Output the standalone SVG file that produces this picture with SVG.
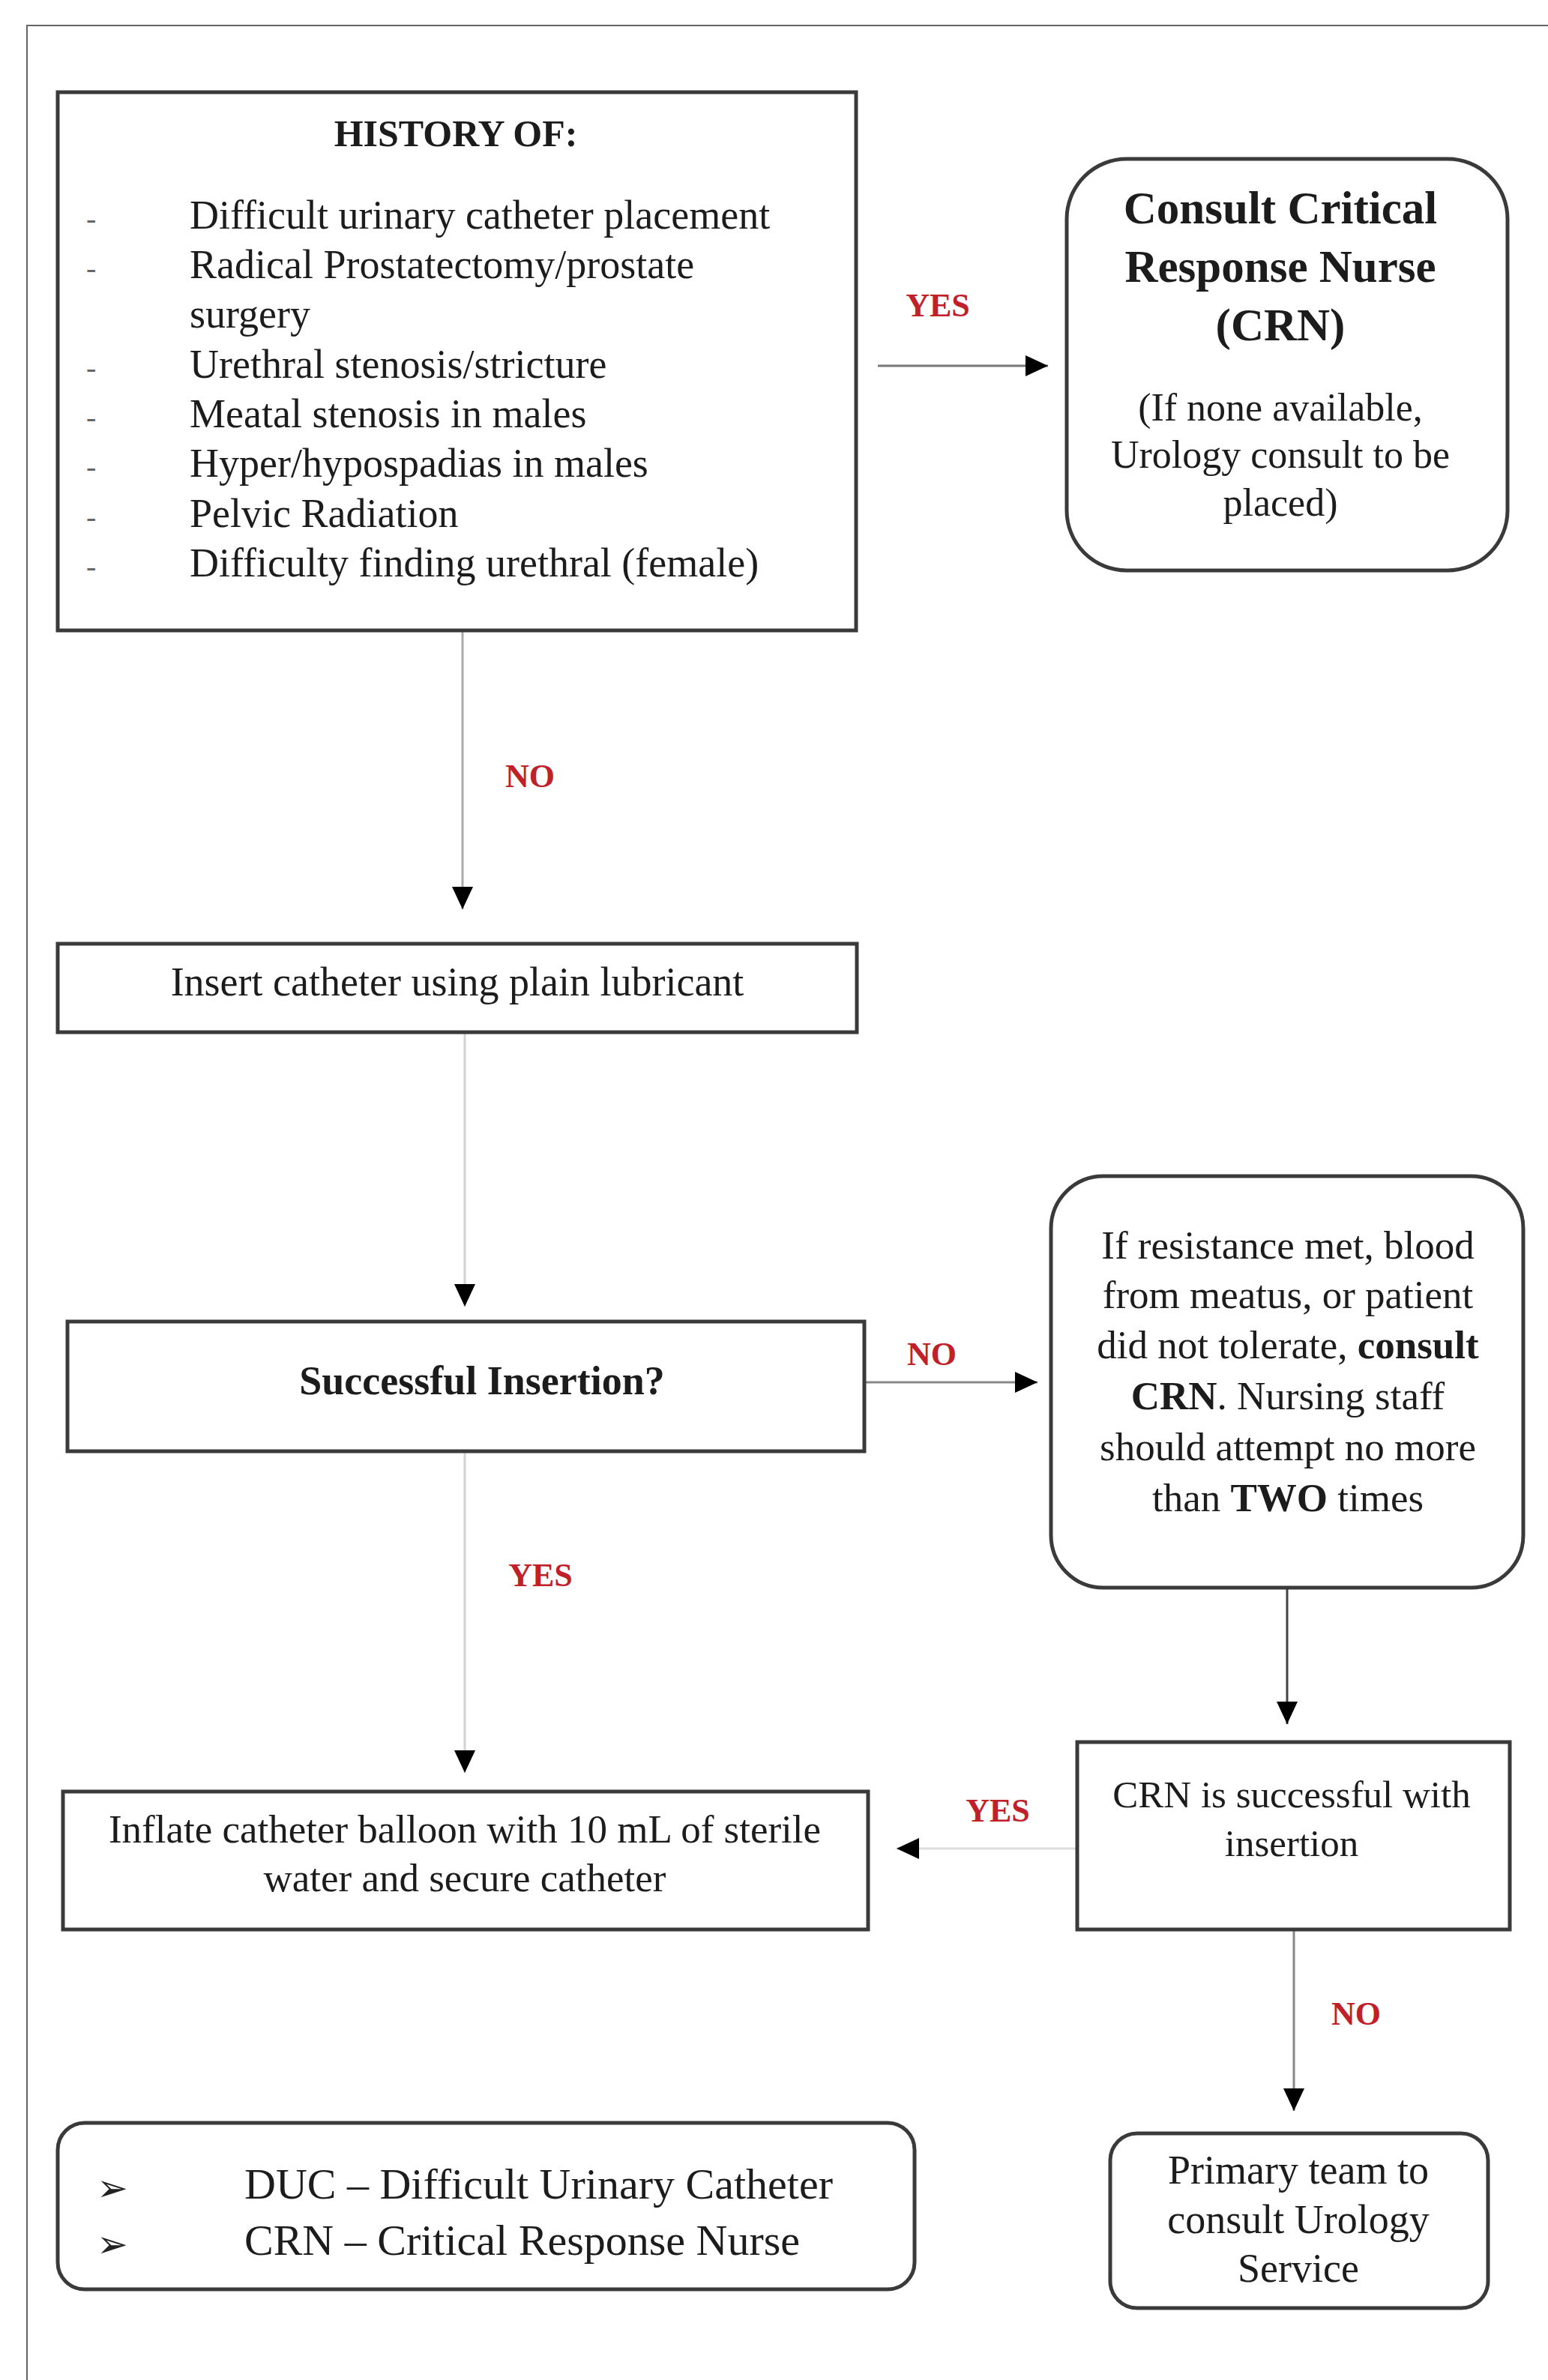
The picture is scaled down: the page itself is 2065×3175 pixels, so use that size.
<svg xmlns="http://www.w3.org/2000/svg" width="2065" height="3175" viewBox="0 0 2065 3175">
<defs>
<marker id="ah" viewBox="0 0 30 28" refX="30" refY="14" markerWidth="30" markerHeight="28" markerUnits="userSpaceOnUse" orient="auto">
<path d="M0,0 L30,14 L0,28 Z" fill="#000"/>
</marker>
<style>
.t{font-family:"Liberation Serif","Times New Roman",serif;font-size:53px;fill:#1c1c1c}
.c{text-anchor:middle}
.b{font-weight:bold}
.lbl{font-family:"Liberation Serif","Times New Roman",serif;font-size:44px;font-weight:bold;fill:#c0202a;text-anchor:middle}
.box{fill:#fff;stroke:#3a3a3a;stroke-width:5}
.con{fill:none;stroke-width:3}
.d{font-family:"Liberation Serif","Times New Roman",serif;font-size:40px;fill:#666}
.li{font-size:54px}
.h{font-size:50px}
.ti{font-size:61px}
.sub{font-size:52px}
.s54{font-size:54px}
.s51{font-size:51px}
.lg{font-size:58px}
.bul{font-family:"DejaVu Sans",sans-serif;font-size:50px;fill:#222;text-anchor:middle}
</style>
</defs>
<rect width="2065" height="3175" fill="#fff"/>
<rect x="36" y="34" width="2100" height="3200" fill="none" stroke="#666" stroke-width="2"/>

<g id="connectors">
<line class="con" x1="1171" y1="488" x2="1398" y2="488" stroke="#777" marker-end="url(#ah)"/>
<line class="con" x1="617" y1="842" x2="617" y2="1213" stroke="#aaa" marker-end="url(#ah)"/>
<line class="con" x1="620" y1="1377" x2="620" y2="1743" stroke="#d2d2d2" marker-end="url(#ah)"/>
<line class="con" x1="1153" y1="1844" x2="1384" y2="1844" stroke="#888" stroke-width="5" marker-end="url(#ah)"/>
<line class="con" x1="620" y1="1936" x2="620" y2="2365" stroke="#d2d2d2" marker-end="url(#ah)"/>
<line class="con" x1="1717" y1="2118" x2="1717" y2="2300" stroke="#444" marker-end="url(#ah)"/>
<line class="con" x1="1437" y1="2466" x2="1196" y2="2466" stroke="#ddd" stroke-width="4" marker-end="url(#ah)"/>
<line class="con" x1="1726" y1="2574" x2="1726" y2="2816" stroke="#888" marker-end="url(#ah)"/>
<text class="lbl" x="1251" y="422">YES</text>
<text class="lbl" x="707" y="1050">NO</text>
<text class="lbl" x="1243" y="1821">NO</text>
<text class="lbl" x="721" y="2116">YES</text>
<text class="lbl" x="1331" y="2430">YES</text>
<text class="lbl" x="1809" y="2701">NO</text>
</g>

<g id="history">
<rect class="box" x="77" y="123" width="1065" height="718" stroke="#333"/>
<text class="t c b h" x="608" y="195">HISTORY OF:</text>
<text class="d" x="115" y="305">-</text>
<text class="d" x="115" y="371">-</text>
<text class="d" x="115" y="504">-</text>
<text class="d" x="115" y="570">-</text>
<text class="d" x="115" y="636">-</text>
<text class="d" x="115" y="703">-</text>
<text class="d" x="115" y="769">-</text>
<text class="t li" x="253" y="305">Difficult urinary catheter placement</text>
<text class="t li" x="253" y="371">Radical Prostatectomy/prostate</text>
<text class="t li" x="253" y="437">surgery</text>
<text class="t li" x="253" y="504">Urethral stenosis/stricture</text>
<text class="t li" x="253" y="570">Meatal stenosis in males</text>
<text class="t li" x="253" y="636">Hyper/hypospadias in males</text>
<text class="t li" x="253" y="703">Pelvic Radiation</text>
<text class="t li" x="253" y="769">Difficulty finding urethral (female)</text>
</g>

<g id="crn">
<rect class="box" x="1423" y="212" width="588" height="549" rx="80" ry="80" stroke="#333"/>
<text class="t c b ti" x="1708" y="298">Consult Critical</text>
<text class="t c b ti" x="1708" y="376">Response Nurse</text>
<text class="t c b ti" x="1708" y="454">(CRN)</text>
<text class="t c sub" x="1708" y="561">(If none available,</text>
<text class="t c sub" x="1708" y="624">Urology consult to be</text>
<text class="t c sub" x="1708" y="688">placed)</text>
</g>

<g id="insert">
<rect class="box" x="77" y="1259" width="1066" height="118" stroke="#444" stroke-width="4"/>
<text class="t c s54" x="610" y="1328">Insert catheter using plain lubricant</text>
</g>

<g id="successful">
<rect class="box" x="90" y="1763" width="1063" height="173" stroke="#555" stroke-width="4"/>
<text class="t c b s54" x="643" y="1860">Successful Insertion?</text>
</g>

<g id="resistance">
<rect class="box" x="1402" y="1569" width="630" height="549" rx="70" ry="70" stroke="#333" stroke-width="4"/>
<text class="t c" x="1718" y="1679">If resistance met, blood</text>
<text class="t c" x="1718" y="1745">from meatus, or patient</text>
<text class="t c" x="1718" y="1812">did not tolerate, <tspan class="b">consult</tspan></text>
<text class="t c" x="1718" y="1880"><tspan class="b">CRN</tspan>. Nursing staff</text>
<text class="t c" x="1718" y="1948">should attempt no more</text>
<text class="t c" x="1718" y="2016">than <tspan class="b">TWO</tspan> times</text>
</g>

<g id="crn-success">
<rect class="box" x="1437" y="2324" width="577" height="250" stroke="#444" stroke-width="5"/>
<text class="t c s51" x="1723" y="2411">CRN is successful with</text>
<text class="t c s51" x="1723" y="2476">insertion</text>
</g>

<g id="inflate">
<rect class="box" x="84" y="2390" width="1074" height="184" stroke="#555" stroke-width="4"/>
<text class="t c" x="620" y="2458">Inflate catheter balloon with 10 mL of sterile</text>
<text class="t c" x="620" y="2523">water and secure catheter</text>
</g>

<g id="legend">
<rect class="box" x="77" y="2832" width="1143" height="222" rx="36" ry="36" stroke="#111" stroke-width="6"/>
<text class="bul" x="150" y="2936">➢</text>
<text class="bul" x="150" y="3011">➢</text>
<text class="t lg" x="326" y="2933">DUC – Difficult Urinary Catheter</text>
<text class="t lg" x="326" y="3008">CRN – Critical Response Nurse</text>
</g>

<g id="primary">
<rect class="box" x="1481" y="2846" width="504" height="233" rx="36" ry="36" stroke="#444" stroke-width="5"/>
<text class="t c s54" x="1732" y="2913">Primary team to</text>
<text class="t c s54" x="1732" y="2979">consult Urology</text>
<text class="t c s54" x="1732" y="3044">Service</text>
</g>
</svg>
